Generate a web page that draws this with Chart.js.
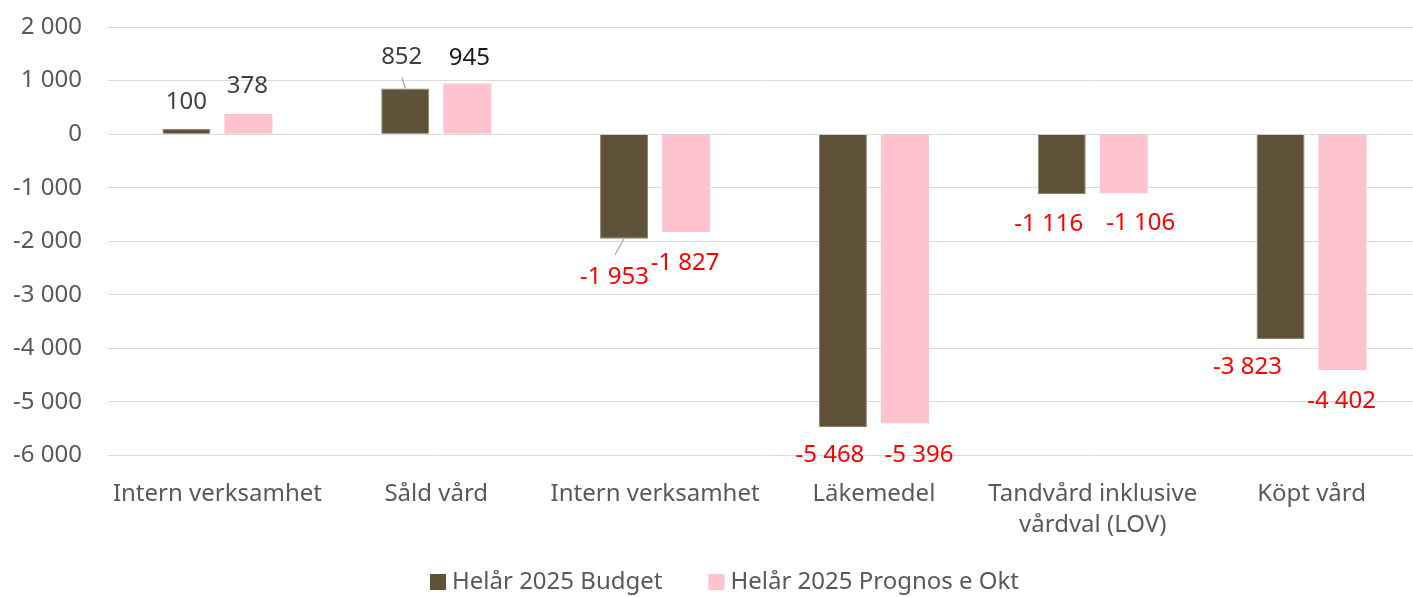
<!DOCTYPE html>
<html>
<head>
<meta charset="utf-8">
<script src="https://cdn.jsdelivr.net/npm/chart.js@4/dist/chart.umd.min.js"></script>
<style>
  html, body { margin: 0; padding: 0; background: #fff; overflow: hidden; }
  #wrap { width: 1421px; height: 597px; }
</style>
</head>
<body>
<div id="wrap"><canvas id="chart" width="1421" height="597"></canvas></div>
<script>
// data
const categories = [
  'Intern verksamhet',
  'Såld vård',
  'Intern verksamhet',
  'Läkemedel',
  ['Tandvård inklusive', 'vårdval (LOV)'],
  'Köpt vård',
];
const budget = [100, 852, -1953, -5468, -1116, -3823];
const prognos = [378, 945, -1827, -5396, -1106, -4402];
const seriesNames = ['Helår 2025 Budget', 'Helår 2025 Prognos e Okt'];

// label placement (px, relative to bar end)
const labelShift = [
  [[0, -27], [-3.5, -31], [-9.5, 38], [-13, 28], [-13, 30], [-33, 28]],
  [[-1, -27.5], [2, -25], [-1, 31], [14, 32], [17, 30], [-1, 31]],
];
// leader lines: [dataset, index, x1, y1, x2, y2] relative to bar end
const leaders = [
  [0, 1, -3.3, -11, 0, 0],
  [0, 2, 0, 0, -9, 16],
];

const FONT = '"Noto Sans", "Open Sans", sans-serif';
const COLORS = ['#605238', '#ffc3d0'];

function fmt(v) {
  const s = Math.abs(Math.round(v)).toString().replace(/\B(?=(\d{3})+(?!\d))/g, ' ');
  return (v < 0 ? '-' : '') + s;
}

const valueLabels = {
  id: 'valueLabels',
  afterDatasetsDraw(chart) {
    const ctx = chart.ctx;
    ctx.save();
    ctx.strokeStyle = '#a6a6a6';
    ctx.lineWidth = 1.2;
    leaders.forEach(([d, i, x1, y1, x2, y2]) => {
      const bar = chart.getDatasetMeta(d).data[i];
      ctx.beginPath();
      ctx.moveTo(bar.x + x1, bar.y + y1);
      ctx.lineTo(bar.x + x2, bar.y + y2);
      ctx.stroke();
    });
    ctx.font = `24px ${FONT}`;
    ctx.textAlign = 'center';
    ctx.textBaseline = 'middle';
    chart.data.datasets.forEach((ds, d) => {
      chart.getDatasetMeta(d).data.forEach((bar, i) => {
        const v = ds.data[i];
        const [dx, dy] = labelShift[d][i];
        ctx.fillStyle = v < 0 ? '#ff0000' : (d === 1 && i === 1 ? '#1a1a1a' : '#404040');
        ctx.fillText(fmt(v), bar.x + dx, bar.y + dy);
      });
    });
    ctx.restore();
  },
};

const customLegend = {
  id: 'customLegend',
  afterDraw(chart) {
    const ctx = chart.ctx;
    ctx.save();
    ctx.font = `24px ${FONT}`;
    ctx.textBaseline = 'middle';
    ctx.textAlign = 'left';
    const box = 16, gapText = 6, gapItem = 46;
    let x = 430;
    const y = 582;
    seriesNames.forEach((n, i) => {
      ctx.fillStyle = COLORS[i];
      ctx.fillRect(x, y - box / 2, box, box);
      ctx.fillStyle = '#595959';
      ctx.fillText(n, x + box + gapText, y);
      x += box + gapText + ctx.measureText(n).width + gapItem;
    });
    ctx.restore();
  },
};

new Chart(document.getElementById('chart'), {
  type: 'bar',
  data: {
    labels: categories,
    datasets: [
      { label: seriesNames[0], data: budget, backgroundColor: COLORS[0], borderColor: '#8a8270', borderWidth: 1 },
      { label: seriesNames[1], data: prognos, backgroundColor: COLORS[1] },
    ],
  },
  options: {
    responsive: false,
    animation: false,
    devicePixelRatio: 1,
    categoryPercentage: 0.567,
    barPercentage: 0.774,
    layout: { padding: { top: 27, right: 0, bottom: 42, left: 0 } },
    plugins: { legend: { display: false }, tooltip: { enabled: false } },
    scales: {
      x: {
        grid: { display: false },
        border: { display: false },
        ticks: {
          color: '#595959',
          font: { family: FONT, size: 24, lineHeight: 1.29 },
          padding: 15,
          maxRotation: 0,
          autoSkip: false,
        },
        afterFit: (s) => { s.height = 597 - 42 - 455.5; },
      },
      y: {
        min: -6000,
        max: 2000,
        grid: { color: '#d9d9d9', lineWidth: 1, drawTicks: false },
        border: { display: false },
        ticks: {
          stepSize: 1000,
          color: '#595959',
          font: { family: FONT, size: 24 },
          padding: 26,
          callback: (v) => fmt(v),
        },
        afterFit: (s) => {
          s.width = 108;
          s.paddingTop = 14;
          s.paddingBottom = 14;
        },
      },
    },
  },
  plugins: [valueLabels, customLegend],
});
</script>
</body>
</html>
